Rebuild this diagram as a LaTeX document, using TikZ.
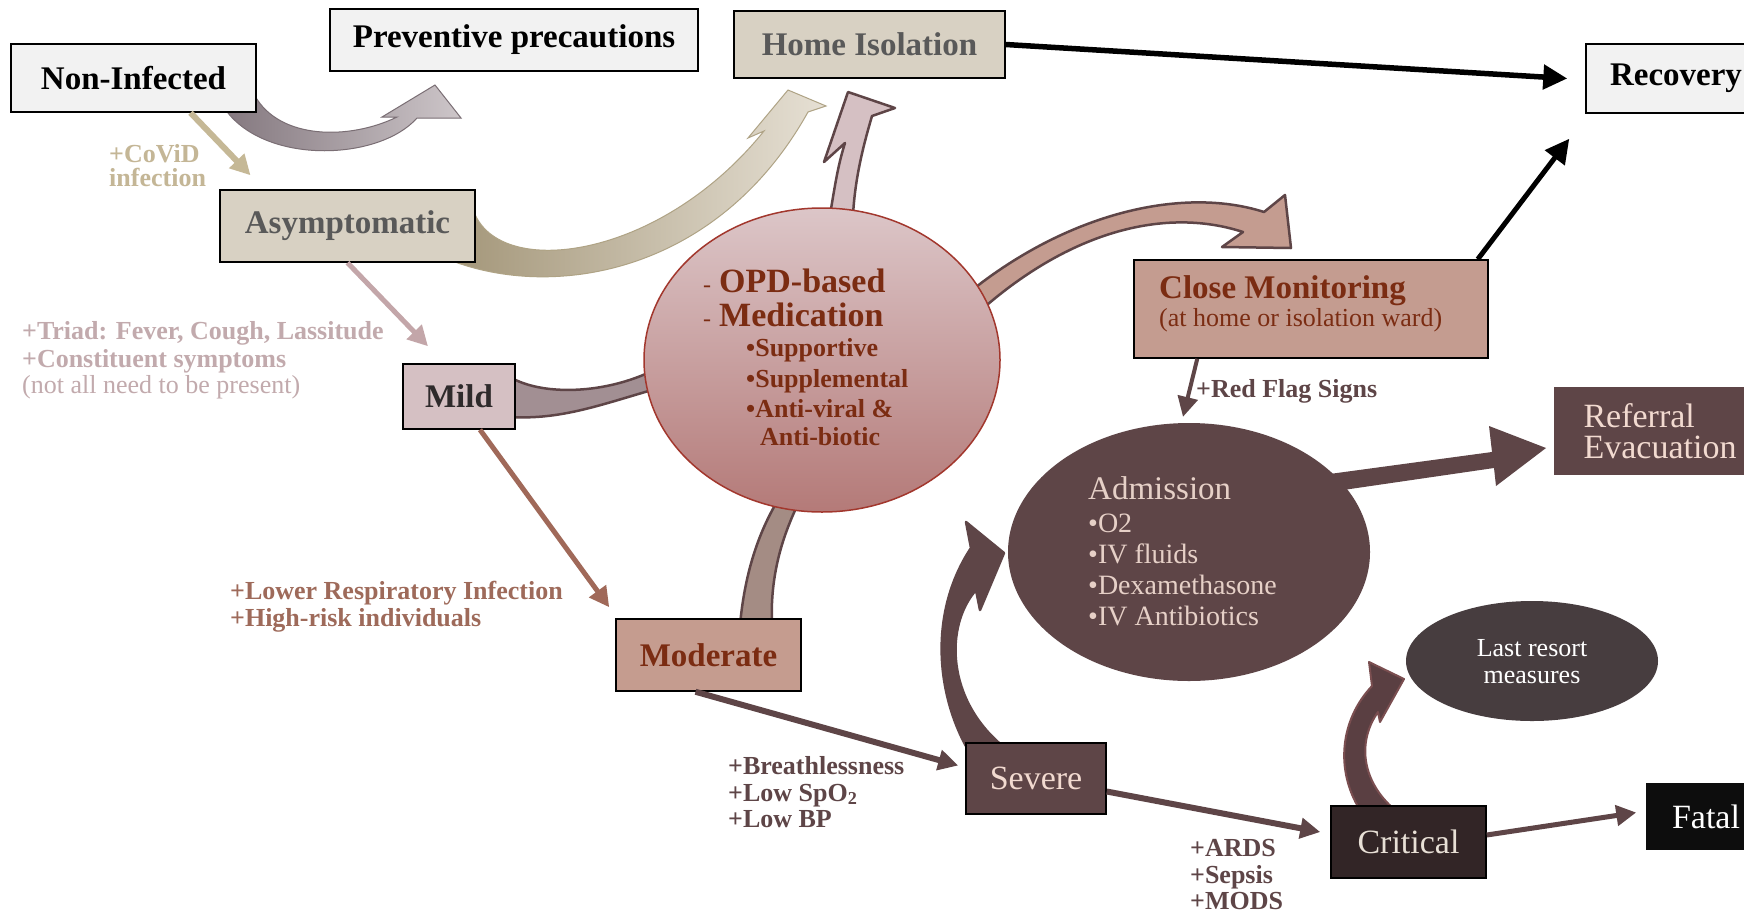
\documentclass[tikz,border=0pt]{standalone}
\usepackage{fontspec}
\setmainfont{Liberation Serif}
\usetikzlibrary{arrows.meta,shapes.geometric}
\definecolor{boxlight}{HTML}{F2F2F2}
\definecolor{beige}{HTML}{D8D1C3}
\definecolor{greytxt}{HTML}{595959}
\definecolor{mildfill}{HTML}{D5C0C3}
\definecolor{modfill}{HTML}{C59C8F}
\definecolor{darkbr}{HTML}{5E4547}
\definecolor{critfill}{HTML}{322526}
\definecolor{fatalfill}{HTML}{0D0D0D}
\definecolor{lastfill}{HTML}{473D3F}
\definecolor{cmfill}{HTML}{C49C90}
\definecolor{redtxt}{HTML}{7B2C12}
\definecolor{pinktxt}{HTML}{F2DAD0}
\definecolor{admtxt}{HTML}{E6D0C7}
\definecolor{crittxt}{HTML}{E8E0D6}
\definecolor{mildtxt}{HTML}{2E2A2B}
\definecolor{covidc}{HTML}{C4B696}
\definecolor{triadc}{HTML}{C2AAAD}
\definecolor{lowerc}{HTML}{9E6A5A}
\definecolor{opdtop}{HTML}{DCC6C8}
\definecolor{opdbot}{HTML}{B47A78}
\definecolor{opdline}{HTML}{A2372D}
\definecolor{arrbl}{HTML}{857980}
\definecolor{arrbr}{HTML}{CDC6C9}
\definecolor{arrbline}{HTML}{7A6E74}
\definecolor{arrcl}{HTML}{A4977A}
\definecolor{arrcr}{HTML}{E6E0D4}
\definecolor{arrcline}{HTML}{AFA385}
\definecolor{mildarr}{HTML}{A28F93}
\definecolor{modarr}{HTML}{A48C84}
\definecolor{critarr}{HTML}{5A3F42}
\definecolor{critarrline}{HTML}{7A4E50}
\definecolor{arrA}{HTML}{C5B896}
\definecolor{arrD}{HTML}{C3A6A9}
\definecolor{arrH}{HTML}{A06959}
\begin{document}
\begin{tikzpicture}[x=1pt,y=-1pt,
  box/.style={draw=black, line width=1.5pt, inner sep=0pt, align=center},
  ttl/.style={font=\fontsize{33}{38}\selectfont\bfseries},
  ttr/.style={font=\fontsize{34}{38}\selectfont},
  lab/.style={anchor=base west, inner sep=0pt, font=\fontsize{26}{28}\selectfont\bfseries},
  labr/.style={anchor=base west, inner sep=0pt, font=\fontsize{26}{28}\selectfont},
  blk/.style={draw=darkbr, line width=2.5pt, line join=round},
  conn/.style={line cap=butt},
  tipA/.style={-{Triangle[length=20pt,width=20pt]}},
  tipB/.style={-{Triangle[length=24pt,width=24pt]}},
]
\useasboundingbox (0,0) rectangle (1744,913);
\fill[white] (0,0) rectangle (1744,913);

% ---- block arrows (behind) ----
\path[draw=arrbline, line width=1pt, left color=arrbl, right color=arrbr]
  (255,96) .. controls (280,140) and (350,140) .. (397,117) -- (382,117) -- (435,85)
  -- (461,118) -- (417,118) .. controls (380,160) and (270,165) .. (228,113) -- cycle;
\path[draw=arrcline, line width=1pt, left color=arrcl, right color=arrcr]
  (474,212) .. controls (500,280) and (660,260) .. (764,131) -- (748,138) -- (788,90)
  -- (826,106) -- (808,112) .. controls (720,270) and (560,300) .. (455,262) -- cycle;
\path[blk, fill=mildarr]
  (510,377) .. controls (540,395) and (600,395) .. (650,372) -- (652,390)
  .. controls (600,405) and (560,420) .. (510,417) -- cycle;
\path[blk, fill=mildfill]
  (830,215) .. controls (835,185) and (838,165) .. (845,143) -- (824,162) -- (848,92)
  -- (895,108) -- (872,116) .. controls (862,150) and (855,180) .. (853,215) -- cycle;
\path[blk, fill=cmfill]
  (960,300) .. controls (1060,215) and (1180,185) .. (1264,212) -- (1285,195) -- (1291,248)
  -- (1222,247) -- (1243,232) .. controls (1160,205) and (1060,235) .. (968,322) -- cycle;
\path[blk, fill=modarr]
  (740,625) .. controls (745,570) and (760,530) .. (778,500) -- (800,500)
  .. controls (780,540) and (770,580) .. (772,625) -- cycle;
\path[blk, fill=darkbr]
  (967,748) .. controls (935,690) and (930,610) .. (971,548) -- (966,522) -- (1004,553)
  -- (980,610) -- (976,590) .. controls (945,625) and (945,700) .. (1005,748) -- cycle;
\path[draw=critarrline, fill=critarr, line width=2pt, line join=round]
  (1360,810) .. controls (1335,770) and (1340,720) .. (1372,686) -- (1369,662) -- (1404,679)
  -- (1380,722) -- (1378,712) .. controls (1358,740) and (1360,780) .. (1395,810) -- cycle;
\fill[darkbr] (1300,478) -- (1492,452) -- (1489,426) -- (1546,448) -- (1496,486)
  -- (1494,468) -- (1302,496) -- cycle;

% ---- ellipses ----
\node[ellipse, draw=opdline, line width=1.5pt, top color=opdtop, bottom color=opdbot,
  minimum width=356pt, minimum height=304pt, inner sep=0pt] (opd) at (822,360) {};
\node[ellipse, fill=darkbr, minimum width=362pt, minimum height=258pt, inner sep=0pt]
  (ad) at (1189,552) {};
\node[ellipse, fill=lastfill, minimum width=252pt, minimum height=120pt, inner sep=0pt]
  (lr) at (1532,661) {};

% ---- boxes ----
\node[box, ttl, fill=boxlight, minimum width=245pt, minimum height=68pt] (ni) at (133.5,78) {Non-Infected};
\node[box, ttl, fill=boxlight, minimum width=368pt, minimum height=62pt] (pp) at (514,40) {Preventive precautions};
\node[box, ttl, fill=beige, text=greytxt, minimum width=271pt, minimum height=67pt] (hi) at (869.5,44.5) {Home Isolation};
\node[box, ttl, fill=boxlight, minimum width=180pt, minimum height=69pt] (rc) at (1676,78.5) {Recovery};
\node[box, ttl, fill=beige, text=greytxt, minimum width=255pt, minimum height=72pt] (as) at (347.5,226) {Asymptomatic};
\node[box, ttl, fill=mildfill, text=mildtxt, minimum width=112pt, minimum height=65pt] (mi) at (459,396.5) {Mild};
\node[box, ttl, fill=modfill, text=redtxt, minimum width=185pt, minimum height=72pt] (mo) at (708.5,655) {Moderate};
\node[box, ttr, fill=darkbr, text=pinktxt, minimum width=140pt, minimum height=71pt] (se) at (1036,778.5) {Severe};
\node[box, ttr, fill=critfill, text=crittxt, minimum width=155pt, minimum height=72pt] (cr) at (1408.5,842) {Critical};
\node[box, ttr, draw=none, fill=fatalfill, text=white, minimum width=120pt, minimum height=67pt] (fa) at (1706,816.5) {Fatal};
\node[box, draw=none, fill=darkbr, text=pinktxt, align=left, font=\fontsize{34}{31}\selectfont,
  minimum width=213pt, minimum height=88pt] (re) at (1660,431) {Referral\\Evacuation};
\node[box, fill=cmfill, minimum width=354pt, minimum height=98pt] (cm) at (1311,309) {};
\node[lab, text=redtxt, font=\fontsize{33}{38}\selectfont\bfseries] (cmt1) at (1159,298) {Close Monitoring};
\node[labr, text=redtxt] (cmt2) at (1159,326) {(at home or isolation ward)};

% ---- ellipse texts ----
\node[labr, text=redtxt, font=\fontsize{24}{28}\selectfont] (od1) at (703,292) {-};
\node[labr, text=redtxt, font=\fontsize{24}{28}\selectfont] (od2) at (703,326) {-};
\node[lab, text=redtxt, font=\fontsize{34}{38}\selectfont\bfseries] (o1) at (719,292) {OPD-based};
\node[lab, text=redtxt, font=\fontsize{34}{38}\selectfont\bfseries] (o2) at (719,326) {Medication};
\node[lab, text=redtxt] (o3) at (746,356) {•Supportive};
\node[lab, text=redtxt] (o4) at (746,387) {•Supplemental};
\node[lab, text=redtxt] (o5) at (746,417) {•Anti-viral \&};
\node[lab, text=redtxt] (o6) at (760,445) {Anti-biotic};

\node[labr, text=admtxt, font=\fontsize{33}{38}\selectfont] (a1) at (1088,499) {Admission};
\node[labr, text=admtxt, font=\fontsize{28}{30}\selectfont] (a2) at (1088,532) {•O2};
\node[labr, text=admtxt, font=\fontsize{28}{30}\selectfont] (a3) at (1088,563) {•IV fluids};
\node[labr, text=admtxt, font=\fontsize{28}{30}\selectfont] (a4) at (1088,594) {•Dexamethasone};
\node[labr, text=admtxt, font=\fontsize{28}{30}\selectfont] (a5) at (1088,625) {•IV Antibiotics};

\node[inner sep=0pt, anchor=base, text=white, font=\fontsize{26}{28}\selectfont] (l1) at (1532,656) {Last resort};
\node[inner sep=0pt, anchor=base, text=white, font=\fontsize{26}{28}\selectfont] (l2) at (1532,683) {measures};

% ---- straight connectors ----
\draw[conn, tipA, arrA, line width=6pt] ([xshift=57pt]ni.south) -- ([xshift=-97pt,yshift=14pt]as.north);
\draw[conn, tipA, arrD, line width=5pt] (as.south) -- ([xshift=-31pt,yshift=17pt]mi.north);
\draw[conn, tipA, arrH, line width=5pt] ([xshift=21pt]mi.south) -- ([xshift=-6pt,yshift=11pt]mo.north west);
\draw[conn, tipA, darkbr, line width=6pt] ([xshift=-13pt]mo.south) -- ([xshift=-7pt,yshift=13pt]se.west);
\draw[conn, tipA, darkbr, line width=6pt] ([yshift=-13pt]se.east) -- ([xshift=-10pt,yshift=10pt]cr.west);
\draw[conn, tipA, darkbr, line width=5pt] ([yshift=7pt]cr.east) -- ([xshift=-9pt,yshift=4pt]fa.west);
\draw[conn, tipB, black, line width=5.5pt] (hi.east) -- ([xshift=-18pt]rc.west);
\draw[conn, tipB, black, line width=5pt] ([xshift=-11pt]cm.north east) -- ([xshift=-16pt,yshift=-25pt]rc.south west);
\draw[conn, tipA, darkbr, line width=4pt] ([xshift=64pt]cm.south west) -- ([xshift=-6pt,yshift=6pt]ad.north);

% ---- labels ----
\node[lab, text=covidc] (c1) at (109,162) {+CoViD};
\node[lab, text=covidc] (c2) at (109,186) {infection};
\node[lab, text=triadc] (t1) at (22,339) {+Triad: Fever, Cough, Lassitude};
\node[lab, text=triadc] (t2) at (22,367) {+Constituent symptoms};
\node[labr, text=triadc] (t3) at (22,393) {(not all need to be present)};
\node[lab, text=lowerc] (w1) at (230,599) {+Lower Respiratory Infection};
\node[lab, text=lowerc] (w2) at (230,626) {+High-risk individuals};
\node[lab, text=darkbr] (b1) at (728,774) {+Breathlessness};
\node[lab, text=darkbr] (b2) at (728,801) {+Low SpO\textsubscript{2}};
\node[lab, text=darkbr] (b3) at (728,827) {+Low BP};
\node[lab, text=darkbr] (d1) at (1190,856) {+ARDS};
\node[lab, text=darkbr] (d2) at (1190,883) {+Sepsis};
\node[lab, text=darkbr] (d3) at (1190,909) {+MODS};
\node[lab, text=darkbr] (rf) at (1196,397) {+Red Flag Signs};
\end{tikzpicture}
\end{document}
